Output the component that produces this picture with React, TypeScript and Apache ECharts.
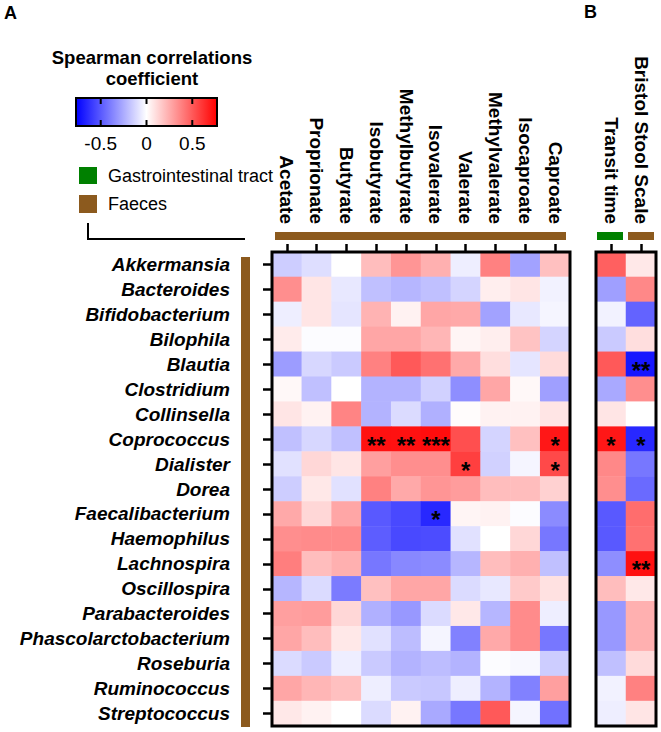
import React, { useEffect, useRef } from "react";
import * as echarts from "echarts";

const genera = [
  "Akkermansia", "Bacteroides", "Bifidobacterium", "Bilophila", "Blautia",
  "Clostridium", "Collinsella", "Coprococcus", "Dialister", "Dorea",
  "Faecalibacterium", "Haemophilus", "Lachnospira", "Oscillospira",
  "Parabacteroides", "Phascolarctobacterium", "Roseburia", "Ruminococcus",
  "Streptococcus",
];

const scfas = [
  "Acetate", "Proprionate", "Butyrate", "Isobutyrate", "Methylbutyrate",
  "Isovalerate", "Valerate", "Methylvalerate", "Isocaproate", "Caproate",
];

const clinical = ["Transit time", "Bristol Stool Scale"];

// rows = genera, columns = SCFAs
const scfaCorr: number[][] = [
  [-0.15, -0.10, 0.00, 0.20, 0.32, 0.24, -0.05, 0.38, -0.28, 0.19],
  [0.34, 0.08, -0.07, -0.19, -0.22, -0.19, -0.13, 0.05, 0.08, -0.04],
  [-0.05, 0.08, -0.08, 0.23, 0.04, 0.27, 0.26, -0.28, -0.07, -0.03],
  [0.06, -0.01, -0.01, 0.27, 0.27, 0.22, 0.03, 0.05, 0.18, -0.13],
  [-0.30, -0.12, -0.16, 0.38, 0.50, 0.43, 0.26, 0.10, -0.08, 0.11],
  [0.02, -0.19, 0.00, -0.23, -0.23, -0.14, -0.34, 0.27, 0.02, -0.29],
  [0.08, 0.04, 0.37, -0.23, -0.11, -0.24, 0.01, 0.04, 0.04, 0.08],
  [-0.19, -0.12, -0.19, 0.72, 0.72, 0.73, 0.53, -0.13, 0.19, 0.70],
  [-0.09, 0.12, 0.08, 0.29, 0.34, 0.34, 0.58, -0.14, -0.03, 0.55],
  [-0.15, 0.07, -0.09, 0.38, 0.26, 0.32, 0.30, 0.20, 0.20, 0.14],
  [0.26, 0.12, 0.27, -0.50, -0.55, -0.65, 0.03, 0.04, -0.01, -0.35],
  [0.34, 0.35, 0.35, -0.49, -0.55, -0.54, -0.09, 0.00, 0.12, -0.41],
  [0.39, 0.20, 0.24, -0.41, -0.36, -0.35, -0.22, 0.20, 0.24, -0.19],
  [-0.22, -0.11, -0.40, 0.19, 0.27, 0.27, -0.11, -0.07, 0.16, 0.09],
  [0.29, 0.30, 0.12, -0.24, -0.31, -0.11, 0.07, -0.22, 0.35, -0.05],
  [0.27, 0.20, 0.07, -0.09, -0.20, -0.03, -0.38, 0.26, 0.35, -0.41],
  [-0.11, -0.16, -0.05, -0.16, -0.23, -0.20, -0.23, -0.01, -0.02, -0.15],
  [0.27, 0.22, 0.19, -0.05, -0.16, -0.17, -0.05, -0.23, -0.38, 0.29],
  [0.07, 0.04, 0.00, -0.11, 0.04, -0.26, -0.41, 0.50, -0.03, -0.43],
];

// rows = genera, columns = Transit time, Bristol Stool Scale
const clinicalCorr: number[][] = [
  [0.48, 0.07], [-0.29, 0.36], [-0.04, -0.47], [-0.16, 0.10], [0.50, -0.70],
  [-0.26, 0.34], [0.08, 0.00], [0.70, -0.65], [0.36, -0.41], [0.34, -0.45],
  [-0.50, 0.44], [-0.50, 0.43], [-0.34, 0.72], [0.20, 0.07], [-0.31, 0.24],
  [-0.31, 0.24], [-0.19, 0.11], [-0.04, 0.38], [-0.05, 0.08],
];

// [column, row, stars]
const scfaStars: [number, number, string][] = [
  [3, 7, "**"], [4, 7, "**"], [5, 7, "***"], [9, 7, "*"],
  [6, 8, "*"], [9, 8, "*"], [5, 10, "*"],
];
const clinicalStars: [number, number, string][] = [
  [1, 4, "**"], [0, 7, "*"], [1, 7, "*"], [1, 12, "**"],
];

const colorbarTicks = [-0.5, 0, 0.5];
const scaleMin = -0.77;
const scaleMax = 0.77;

const FONT = "'Liberation Sans', Arial, sans-serif";
const BROWN = "#8c5a1e";
const GREEN = "#008000";

const G1 = { left: 272, top: 252, width: 298, height: 474 };
const G2 = { left: 596, top: 252, width: 60, height: 474 };

function toCells(m: number[][]) {
  const out: number[][] = [];
  m.forEach((row, r) => row.forEach((v, c) => out.push([c, r, v])));
  return out;
}

function starLookup(list: [number, number, string][]) {
  const map: Record<string, string> = {};
  list.forEach(([c, r, s]) => (map[c + "," + r] = s));
  return (p: any) => map[p.value[0] + "," + p.value[1]] || "";
}

export default function App() {
  const ref = useRef<HTMLDivElement>(null);
  useEffect(() => {
    if (!ref.current) return;
    const chart = echarts.init(ref.current, null, { renderer: "svg" });

    const cb = { x: 76, y: 98, w: 141, h: 28 };
    const tickX = (t: number) => cb.x + ((t - scaleMin) / (scaleMax - scaleMin)) * cb.w;

    const graphic: any[] = [
      { type: "text", x: 4, y: 4, style: { text: "A", font: `bold 18px ${FONT}`, fill: "#000" } },
      { type: "text", x: 584, y: 3, style: { text: "B", font: `bold 18px ${FONT}`, fill: "#000" } },
      { type: "text", x: 152, y: 57, style: { text: "Spearman correlations", font: `bold 18.5px ${FONT}`, fill: "#000", align: "center", verticalAlign: "middle" } },
      { type: "text", x: 152, y: 78, style: { text: "coefficient", font: `bold 18.5px ${FONT}`, fill: "#000", align: "center", verticalAlign: "middle" } },
      {
        type: "rect",
        shape: { x: cb.x, y: cb.y, width: cb.w, height: cb.h },
        style: {
          fill: new echarts.graphic.LinearGradient(0, 0, 1, 0, [
            { offset: 0, color: "#0000ff" },
            { offset: 0.5, color: "#ffffff" },
            { offset: 1, color: "#ff0000" },
          ]),
          stroke: "#000",
          lineWidth: 2,
        },
      },
      ...colorbarTicks.flatMap((t) => [
        { type: "line", shape: { x1: tickX(t), y1: cb.y, x2: tickX(t), y2: cb.y + 6 }, style: { stroke: "#000", lineWidth: 2 } },
        { type: "line", shape: { x1: tickX(t), y1: cb.y + cb.h - 6, x2: tickX(t), y2: cb.y + cb.h }, style: { stroke: "#000", lineWidth: 2 } },
        { type: "text", x: tickX(t), y: 143, style: { text: String(t), font: `19px ${FONT}`, fill: "#000", align: "center", verticalAlign: "middle" } },
      ]),
      { type: "rect", shape: { x: 79, y: 167, width: 18, height: 17 }, style: { fill: GREEN } },
      { type: "text", x: 108, y: 176, style: { text: "Gastrointestinal tract", font: `18px ${FONT}`, fill: "#000", verticalAlign: "middle" } },
      { type: "rect", shape: { x: 79, y: 195, width: 18, height: 18 }, style: { fill: BROWN } },
      { type: "text", x: 108, y: 204, style: { text: "Faeces", font: `18px ${FONT}`, fill: "#000", verticalAlign: "middle" } },
      { type: "polyline", shape: { points: [[88, 223], [88, 239], [245, 239]] }, style: { stroke: "#000", lineWidth: 2, fill: "none" } },
      // category bars
      { type: "rect", shape: { x: 275, y: 232, width: 291, height: 8 }, style: { fill: BROWN } },
      { type: "rect", shape: { x: 597, y: 232, width: 26, height: 8 }, style: { fill: GREEN } },
      { type: "rect", shape: { x: 628, y: 232, width: 26, height: 8 }, style: { fill: BROWN } },
      { type: "rect", shape: { x: 241, y: 257, width: 9, height: 470 }, style: { fill: BROWN } },
      // frames
      { type: "rect", z: 100, shape: { x: G1.left, y: G1.top, width: G1.width, height: G1.height }, style: { fill: "none", stroke: "#000", lineWidth: 3 } },
      { type: "rect", z: 100, shape: { x: G2.left, y: G2.top, width: G2.width, height: G2.height }, style: { fill: "none", stroke: "#000", lineWidth: 3 } },
    ];

    const xAxisCommon = {
      type: "category",
      position: "top",
      axisLine: { show: false },
      axisTick: { show: true, alignWithLabel: true, length: 8, lineStyle: { color: "#000", width: 2.5 } },
      axisLabel: {
        rotate: 90,
        margin: 28,
        fontSize: 19,
        fontWeight: "bold",
        color: "#000",
        fontFamily: FONT,
      },
      splitLine: { show: false },
    };

    const starLabel = {
      show: true,
      color: "#000",
      fontSize: 24,
      fontWeight: "bold",
      fontFamily: FONT,
      offset: [0, 6],
    };

    chart.setOption({
      animation: false,
      textStyle: { fontFamily: FONT },
      grid: [
        { left: G1.left, top: G1.top, width: G1.width, height: G1.height, show: false },
        { left: G2.left, top: G2.top, width: G2.width, height: G2.height, show: false },
      ],
      xAxis: [
        { ...xAxisCommon, gridIndex: 0, data: scfas },
        { ...xAxisCommon, gridIndex: 1, data: clinical },
      ],
      yAxis: [
        {
          type: "category",
          gridIndex: 0,
          inverse: true,
          data: genera,
          axisLine: { show: false },
          axisTick: { show: true, alignWithLabel: true, length: 9, lineStyle: { color: "#000", width: 2.5 } },
          axisLabel: { margin: 42, fontSize: 19, fontWeight: "bold", fontStyle: "italic", color: "#000", fontFamily: FONT },
        },
        {
          type: "category",
          gridIndex: 1,
          inverse: true,
          data: genera,
          axisLine: { show: false },
          axisTick: { show: false },
          axisLabel: { show: false },
        },
      ],
      visualMap: {
        type: "continuous",
        show: false,
        min: scaleMin,
        max: scaleMax,
        seriesIndex: [0, 1],
        inRange: { color: ["#0000ff", "#ffffff", "#ff0000"] },
      },
      series: [
        {
          type: "heatmap",
          xAxisIndex: 0,
          yAxisIndex: 0,
          data: toCells(scfaCorr),
          label: { ...starLabel, formatter: starLookup(scfaStars) },
          itemStyle: { borderWidth: 0 },
          emphasis: { disabled: true },
        },
        {
          type: "heatmap",
          xAxisIndex: 1,
          yAxisIndex: 1,
          data: toCells(clinicalCorr),
          label: { ...starLabel, formatter: starLookup(clinicalStars) },
          itemStyle: { borderWidth: 0 },
          emphasis: { disabled: true },
        },
      ],
      graphic,
    });
    return () => chart.dispose();
  }, []);
  return (
    <div
      ref={ref}
      style={{ position: "absolute", left: 0, top: 0, width: 661, height: 732, background: "#fff" }}
    />
  );
}
